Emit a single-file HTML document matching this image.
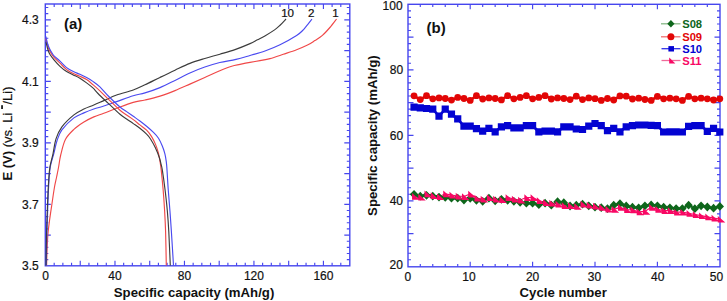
<!DOCTYPE html><html><head><meta charset="utf-8"><style>html,body{margin:0;padding:0;background:#fff;width:727px;height:301px;overflow:hidden}svg{display:block}text{font-family:"Liberation Sans",sans-serif}</style></head><body>
<svg width="727" height="301" viewBox="0 0 727 301">
<path d="M54.19 265.8 v-3 M54.19 4 v3 M62.87 265.8 v-3 M62.87 4 v3 M71.56 265.8 v-3 M71.56 4 v3 M80.24 265.8 v-5 M80.24 4 v5 M88.93 265.8 v-3 M88.93 4 v3 M97.61 265.8 v-3 M97.61 4 v3 M106.3 265.8 v-3 M106.3 4 v3 M114.98 265.8 v-5 M114.98 4 v5 M123.67 265.8 v-3 M123.67 4 v3 M132.35 265.8 v-3 M132.35 4 v3 M141.04 265.8 v-3 M141.04 4 v3 M149.72 265.8 v-5 M149.72 4 v5 M158.41 265.8 v-3 M158.41 4 v3 M167.09 265.8 v-3 M167.09 4 v3 M175.78 265.8 v-3 M175.78 4 v3 M184.46 265.8 v-5 M184.46 4 v5 M193.15 265.8 v-3 M193.15 4 v3 M201.83 265.8 v-3 M201.83 4 v3 M210.52 265.8 v-3 M210.52 4 v3 M219.2 265.8 v-5 M219.2 4 v5 M227.89 265.8 v-3 M227.89 4 v3 M236.57 265.8 v-3 M236.57 4 v3 M245.26 265.8 v-3 M245.26 4 v3 M253.94 265.8 v-5 M253.94 4 v5 M262.62 265.8 v-3 M262.62 4 v3 M271.31 265.8 v-3 M271.31 4 v3 M280 265.8 v-3 M280 4 v3 M288.68 265.8 v-5 M288.68 4 v5 M297.37 265.8 v-3 M297.37 4 v3 M306.05 265.8 v-3 M306.05 4 v3 M314.74 265.8 v-3 M314.74 4 v3 M323.42 265.8 v-5 M323.42 4 v5 M332.11 265.8 v-3 M332.11 4 v3 M340.79 265.8 v-3 M340.79 4 v3 M45.3 259.65 h3 M349.8 259.65 h-3 M45.3 253.5 h3 M349.8 253.5 h-3 M45.3 247.35 h3 M349.8 247.35 h-3 M45.3 241.2 h3 M349.8 241.2 h-3 M45.3 235.05 h5.5 M349.8 235.05 h-5.5 M45.3 228.9 h3 M349.8 228.9 h-3 M45.3 222.75 h3 M349.8 222.75 h-3 M45.3 216.6 h3 M349.8 216.6 h-3 M45.3 210.45 h3 M349.8 210.45 h-3 M45.3 204.3 h5.5 M349.8 204.3 h-5.5 M45.3 198.15 h3 M349.8 198.15 h-3 M45.3 192 h3 M349.8 192 h-3 M45.3 185.85 h3 M349.8 185.85 h-3 M45.3 179.7 h3 M349.8 179.7 h-3 M45.3 173.55 h5.5 M349.8 173.55 h-5.5 M45.3 167.4 h3 M349.8 167.4 h-3 M45.3 161.25 h3 M349.8 161.25 h-3 M45.3 155.1 h3 M349.8 155.1 h-3 M45.3 148.95 h3 M349.8 148.95 h-3 M45.3 142.8 h5.5 M349.8 142.8 h-5.5 M45.3 136.65 h3 M349.8 136.65 h-3 M45.3 130.5 h3 M349.8 130.5 h-3 M45.3 124.35 h3 M349.8 124.35 h-3 M45.3 118.2 h3 M349.8 118.2 h-3 M45.3 112.05 h5.5 M349.8 112.05 h-5.5 M45.3 105.9 h3 M349.8 105.9 h-3 M45.3 99.75 h3 M349.8 99.75 h-3 M45.3 93.6 h3 M349.8 93.6 h-3 M45.3 87.45 h3 M349.8 87.45 h-3 M45.3 81.3 h5.5 M349.8 81.3 h-5.5 M45.3 75.15 h3 M349.8 75.15 h-3 M45.3 69 h3 M349.8 69 h-3 M45.3 62.85 h3 M349.8 62.85 h-3 M45.3 56.7 h3 M349.8 56.7 h-3 M45.3 50.55 h5.5 M349.8 50.55 h-5.5 M45.3 44.4 h3 M349.8 44.4 h-3 M45.3 38.25 h3 M349.8 38.25 h-3 M45.3 32.1 h3 M349.8 32.1 h-3 M45.3 25.95 h3 M349.8 25.95 h-3 M45.3 19.8 h5.5 M349.8 19.8 h-5.5 M45.3 13.65 h3 M349.8 13.65 h-3 M45.3 7.5 h3 M349.8 7.5 h-3" stroke="#4646ee" stroke-width="1.15" fill="none"/>
<rect x="45.3" y="4" width="304.5" height="261.8" stroke="#4646ee" stroke-width="1.4" fill="none"/>
<path d="M46.6 265.5 C46.67 263.08 46.78 256.17 47 251 C47.22 245.83 47.47 239.67 47.9 234.5 C48.33 229.33 48.92 225.17 49.6 220 C50.28 214.83 51.18 209 52 203.5 C52.82 198 53.73 191.42 54.5 187 C55.27 182.58 55.92 180.33 56.6 177 C57.28 173.67 57.92 170.67 58.6 167 C59.28 163.33 59.57 159.58 60.7 155 C61.83 150.42 63.2 143.77 65.4 139.5 C67.6 135.23 70.82 132.3 73.9 129.4 C76.98 126.5 80.58 124.18 83.9 122.1 C87.22 120.02 90.48 118.37 93.8 116.9 C97.12 115.43 100 114.73 103.8 113.3 C107.6 111.87 111.7 110.12 116.6 108.3 C121.5 106.48 128.47 103.78 133.2 102.4 C137.93 101.02 140.53 101.05 145 100 C149.47 98.95 155 97.67 160 96.1 C165 94.53 170.02 92.6 175 90.6 C179.98 88.6 184.93 86.3 189.9 84.1 C194.87 81.9 199.82 79.63 204.8 77.4 C209.78 75.17 215.32 72.57 219.8 70.7 C224.28 68.83 228.33 67.25 231.7 66.2 C235.07 65.15 236.95 65.03 240 64.4 C243.05 63.77 246.67 63.03 250 62.4 C253.33 61.77 256.67 61.23 260 60.6 C263.33 59.97 266.12 59.65 270 58.6 C273.88 57.55 278.87 55.77 283.3 54.3 C287.73 52.83 292.57 51.33 296.6 49.8 C300.63 48.27 304.45 46.63 307.5 45.1 C310.55 43.57 312.42 42.22 314.9 40.6 C317.38 38.98 319.9 37.58 322.4 35.4 C324.9 33.22 327.53 30.23 329.9 27.5 C332.27 24.77 335.48 20.42 336.6 19" stroke="#f04848" stroke-width="1.15" fill="none"/>
<path d="M46.3 265.5 C46.42 259.58 46.72 240.92 47 230 C47.28 219.08 47.67 208.33 48 200 C48.33 191.67 48.62 185.55 49 180 C49.38 174.45 49.47 171.23 50.3 166.7 C51.13 162.17 52.88 157.12 54 152.8 C55.12 148.48 55.68 144.62 57 140.8 C58.32 136.98 59.08 133.72 61.9 129.9 C64.72 126.08 70.23 120.73 73.9 117.9 C77.57 115.07 80.58 114.38 83.9 112.9 C87.22 111.42 90.48 110.15 93.8 109 C97.12 107.85 100 107.23 103.8 106 C107.6 104.77 111.7 103.3 116.6 101.6 C121.5 99.9 128.47 97.25 133.2 95.8 C137.93 94.35 140.53 94.27 145 92.9 C149.47 91.53 155 89.68 160 87.6 C165 85.52 170.02 82.85 175 80.4 C179.98 77.95 184.93 75.13 189.9 72.9 C194.87 70.67 199.82 68.73 204.8 67 C209.78 65.27 214.6 63.77 219.8 62.5 C225 61.23 230.97 60.57 236 59.4 C241.03 58.23 245.17 56.9 250 55.5 C254.83 54.1 260 52.78 265 51 C270 49.22 274.73 47.38 280 44.8 C285.27 42.22 292.83 37.88 296.6 35.5 C300.37 33.12 301.03 31.98 302.6 30.5 C304.17 29.02 304.43 28.52 306 26.6 C307.57 24.68 311 20.27 312 19" stroke="#4a4af0" stroke-width="1.15" fill="none"/>
<path d="M46 265.5 C46.08 260.42 46.25 245.08 46.5 235 C46.75 224.92 47.13 214.17 47.5 205 C47.87 195.83 48.28 186.38 48.7 180 C49.12 173.62 49.28 171.07 50 166.7 C50.72 162.33 52 158.43 53 153.8 C54 149.17 54.52 143.38 56 138.9 C57.48 134.42 58.92 130.9 61.9 126.9 C64.88 122.9 70.23 117.88 73.9 114.9 C77.57 111.92 80.58 110.65 83.9 109 C87.22 107.35 90.48 106.4 93.8 105 C97.12 103.6 100 102.27 103.8 100.6 C107.6 98.93 111.7 96.77 116.6 95 C121.5 93.23 128.47 91.7 133.2 90 C137.93 88.3 140.53 86.9 145 84.8 C149.47 82.7 155 79.83 160 77.4 C165 74.97 170.02 72.53 175 70.2 C179.98 67.87 184.93 65.35 189.9 63.4 C194.87 61.45 199.8 60.03 204.8 58.5 C209.8 56.97 214.87 55.68 219.9 54.2 C224.93 52.72 229.98 51.37 235 49.6 C240.02 47.83 246.27 45.23 250 43.6 C253.73 41.97 254.92 41.08 257.4 39.8 C259.88 38.52 262.03 37.55 264.9 35.9 C267.77 34.25 272.12 31.63 274.6 29.9 C277.08 28.17 277.9 27.32 279.8 25.5 C281.7 23.68 284.97 20.08 286 19" stroke="#3c3c3c" stroke-width="1.15" fill="none"/>
<path d="M45.8 38.5 C46.17 39.92 47.3 44.88 48 47 C48.7 49.12 49.33 49.93 50 51.2 C50.67 52.47 51.33 53.58 52 54.6 C52.67 55.62 52.67 55.87 54 57.3 C55.33 58.73 57.9 61.15 60 63.2 C62.1 65.25 64.38 67.87 66.6 69.6 C68.82 71.33 71.08 72.48 73.3 73.6 C75.52 74.72 77.68 75.3 79.9 76.3 C82.12 77.3 84.38 78.17 86.6 79.6 C88.82 81.03 90.98 83.02 93.2 84.9 C95.42 86.78 97.38 88.53 99.9 90.9 C102.42 93.27 104.95 95.87 108.3 99.1 C111.65 102.33 116.95 107.65 120 110.3 C123.05 112.95 124.38 113.45 126.6 115 C128.82 116.55 131.08 117.95 133.3 119.6 C135.52 121.25 137.68 123.13 139.9 124.9 C142.12 126.67 144.65 128.25 146.6 130.2 C148.55 132.15 150.1 134.2 151.6 136.6 C153.1 139 154.48 141.93 155.6 144.6 C156.72 147.27 157.58 149.93 158.3 152.6 C159.02 155.27 159.42 157.72 159.9 160.6 C160.38 163.48 160.67 165.12 161.2 169.9 C161.73 174.68 162.53 182.53 163.1 189.3 C163.67 196.07 164.18 203.42 164.6 210.5 C165.02 217.58 165.32 222.63 165.6 231.8 C165.88 240.97 166.18 259.88 166.3 265.5" stroke="#f04848" stroke-width="1.15" fill="none"/>
<path d="M46 42 C46.33 43.33 47.33 47.92 48 50 C48.67 52.08 49 52.87 50 54.5 C51 56.13 52.33 57.83 54 59.8 C55.67 61.77 57.9 64.33 60 66.3 C62.1 68.27 64.38 70.17 66.6 71.6 C68.82 73.03 71.08 73.78 73.3 74.9 C75.52 76.02 77.68 76.97 79.9 78.3 C82.12 79.63 84.38 81.25 86.6 82.9 C88.82 84.55 91.3 86.43 93.2 88.2 C95.1 89.97 95.48 90.98 98 93.5 C100.52 96.02 104.63 99.83 108.3 103.3 C111.97 106.77 116.95 111.68 120 114.3 C123.05 116.92 124.38 117.45 126.6 119 C128.82 120.55 131.08 122.05 133.3 123.6 C135.52 125.15 137.68 126.53 139.9 128.3 C142.12 130.07 144.83 132.42 146.6 134.2 C148.37 135.98 149.02 136.7 150.5 139 C151.98 141.3 154.03 144.92 155.5 148 C156.97 151.08 158.38 154.83 159.3 157.5 C160.22 160.17 160.5 161.93 161 164 C161.5 166.07 161.63 165.68 162.3 169.9 C162.97 174.12 164.17 182.53 165 189.3 C165.83 196.07 166.67 203.42 167.3 210.5 C167.93 217.58 168.3 222.63 168.8 231.8 C169.3 240.97 170.05 259.88 170.3 265.5" stroke="#3c3c3c" stroke-width="1.15" fill="none"/>
<path d="M45.8 36.5 C46.17 37.92 47.3 42.83 48 45 C48.7 47.17 49.33 48.17 50 49.5 C50.67 50.83 51.33 51.95 52 53 C52.67 54.05 52.67 54.43 54 55.8 C55.33 57.17 57.9 59.23 60 61.2 C62.1 63.17 64.38 65.87 66.6 67.6 C68.82 69.33 71.08 70.48 73.3 71.6 C75.52 72.72 77.68 73.3 79.9 74.3 C82.12 75.3 84.38 76.38 86.6 77.6 C88.82 78.82 90.98 80.05 93.2 81.6 C95.42 83.15 97.38 84.5 99.9 86.9 C102.42 89.3 104.95 92.65 108.3 96 C111.65 99.35 116.95 104.4 120 107 C123.05 109.6 124.38 110.05 126.6 111.6 C128.82 113.15 131.08 114.73 133.3 116.3 C135.52 117.87 137.68 119.33 139.9 121 C142.12 122.67 144.38 124.43 146.6 126.3 C148.82 128.17 151.22 130.22 153.2 132.2 C155.18 134.18 156.98 135.9 158.5 138.2 C160.02 140.5 161.23 143.38 162.3 146 C163.37 148.62 164.23 151.25 164.9 153.9 C165.57 156.55 165.95 159.23 166.3 161.9 C166.65 164.57 166.68 165.33 167 169.9 C167.32 174.47 167.72 182.53 168.2 189.3 C168.68 196.07 169.37 203.42 169.9 210.5 C170.43 217.58 170.8 222.63 171.4 231.8 C172 240.97 173.15 259.88 173.5 265.5" stroke="#4a4af0" stroke-width="1.15" fill="none"/>
<text stroke="#111" stroke-width="0.2" x="38.7" y="24.1" font-size="12" text-anchor="end" fill="#111">4.3</text>
<text stroke="#111" stroke-width="0.2" x="38.7" y="85.6" font-size="12" text-anchor="end" fill="#111">4.1</text>
<text stroke="#111" stroke-width="0.2" x="38.7" y="147.1" font-size="12" text-anchor="end" fill="#111">3.9</text>
<text stroke="#111" stroke-width="0.2" x="38.7" y="208.6" font-size="12" text-anchor="end" fill="#111">3.7</text>
<text stroke="#111" stroke-width="0.2" x="38.7" y="270.1" font-size="12" text-anchor="end" fill="#111">3.5</text>
<text stroke="#111" stroke-width="0.2" x="45.5" y="279.5" font-size="12" text-anchor="middle" fill="#111">0</text>
<text stroke="#111" stroke-width="0.2" x="114.98" y="279.5" font-size="12" text-anchor="middle" fill="#111">40</text>
<text stroke="#111" stroke-width="0.2" x="184.46" y="279.5" font-size="12" text-anchor="middle" fill="#111">80</text>
<text stroke="#111" stroke-width="0.2" x="253.94" y="279.5" font-size="12" text-anchor="middle" fill="#111">120</text>
<text stroke="#111" stroke-width="0.2" x="323.42" y="279.5" font-size="12" text-anchor="middle" fill="#111">160</text>
<text x="64" y="29.3" font-size="15" font-weight="bold" fill="#111">(a)</text>
<text x="113.8" y="296.6" font-size="13.2" font-weight="bold" fill="#111">Specific capacity (mAh/g)</text>
<text transform="translate(11.6,180.6) rotate(-90)" font-size="13" fill="#111"><tspan font-weight="bold">E (V)</tspan><tspan stroke="#111" stroke-width="0.2"> (vs. Li</tspan></text>
<rect x="1.2" y="105.2" width="1.7" height="3.8" fill="#111"/>
<text stroke="#111" stroke-width="0.2" transform="translate(11.6,104.6) rotate(-90)" font-size="13" fill="#111">/Li)</text>
<text stroke="#111" stroke-width="0.2" x="287.6" y="16.5" font-size="11.6" text-anchor="middle" fill="#111">10</text>
<text stroke="#111" stroke-width="0.2" x="311.2" y="16.5" font-size="11.6" text-anchor="middle" fill="#111">2</text>
<text stroke="#111" stroke-width="0.2" x="335.6" y="16.5" font-size="11.6" text-anchor="middle" fill="#111">1</text>
<path d="M420.28 266.8 v-2.7 M420.28 4.3 v2.7 M432.76 266.8 v-2.7 M432.76 4.3 v2.7 M445.24 266.8 v-2.7 M445.24 4.3 v2.7 M457.72 266.8 v-2.7 M457.72 4.3 v2.7 M470.2 266.8 v-5 M470.2 4.3 v5 M482.68 266.8 v-2.7 M482.68 4.3 v2.7 M495.16 266.8 v-2.7 M495.16 4.3 v2.7 M507.64 266.8 v-2.7 M507.64 4.3 v2.7 M520.12 266.8 v-2.7 M520.12 4.3 v2.7 M532.6 266.8 v-5 M532.6 4.3 v5 M545.08 266.8 v-2.7 M545.08 4.3 v2.7 M557.56 266.8 v-2.7 M557.56 4.3 v2.7 M570.04 266.8 v-2.7 M570.04 4.3 v2.7 M582.52 266.8 v-2.7 M582.52 4.3 v2.7 M595 266.8 v-5 M595 4.3 v5 M607.48 266.8 v-2.7 M607.48 4.3 v2.7 M619.96 266.8 v-2.7 M619.96 4.3 v2.7 M632.44 266.8 v-2.7 M632.44 4.3 v2.7 M644.92 266.8 v-2.7 M644.92 4.3 v2.7 M657.4 266.8 v-5 M657.4 4.3 v5 M669.88 266.8 v-2.7 M669.88 4.3 v2.7 M682.36 266.8 v-2.7 M682.36 4.3 v2.7 M694.84 266.8 v-2.7 M694.84 4.3 v2.7 M707.32 266.8 v-2.7 M707.32 4.3 v2.7 M408 259.75 h3 M720 259.75 h-3 M408 253.2 h3 M720 253.2 h-3 M408 246.65 h3 M720 246.65 h-3 M408 240.1 h3 M720 240.1 h-3 M408 233.55 h5.5 M720 233.55 h-5.5 M408 227 h3 M720 227 h-3 M408 220.45 h3 M720 220.45 h-3 M408 213.9 h3 M720 213.9 h-3 M408 207.35 h3 M720 207.35 h-3 M408 200.8 h5.5 M720 200.8 h-5.5 M408 194.25 h3 M720 194.25 h-3 M408 187.7 h3 M720 187.7 h-3 M408 181.15 h3 M720 181.15 h-3 M408 174.6 h3 M720 174.6 h-3 M408 168.05 h5.5 M720 168.05 h-5.5 M408 161.5 h3 M720 161.5 h-3 M408 154.95 h3 M720 154.95 h-3 M408 148.4 h3 M720 148.4 h-3 M408 141.85 h3 M720 141.85 h-3 M408 135.3 h5.5 M720 135.3 h-5.5 M408 128.75 h3 M720 128.75 h-3 M408 122.2 h3 M720 122.2 h-3 M408 115.65 h3 M720 115.65 h-3 M408 109.1 h3 M720 109.1 h-3 M408 102.55 h5.5 M720 102.55 h-5.5 M408 96 h3 M720 96 h-3 M408 89.45 h3 M720 89.45 h-3 M408 82.9 h3 M720 82.9 h-3 M408 76.35 h3 M720 76.35 h-3 M408 69.8 h5.5 M720 69.8 h-5.5 M408 63.25 h3 M720 63.25 h-3 M408 56.7 h3 M720 56.7 h-3 M408 50.15 h3 M720 50.15 h-3 M408 43.6 h3 M720 43.6 h-3 M408 37.05 h5.5 M720 37.05 h-5.5 M408 30.5 h3 M720 30.5 h-3 M408 23.95 h3 M720 23.95 h-3 M408 17.4 h3 M720 17.4 h-3 M408 10.85 h3 M720 10.85 h-3" stroke="#4646ee" stroke-width="1.15" fill="none"/>
<rect x="408" y="4.3" width="312" height="262.5" stroke="#4646ee" stroke-width="1.4" fill="none"/>
<text stroke="#111" stroke-width="0.2" x="402.9" y="269.1" font-size="12" text-anchor="end" fill="#111">20</text>
<text stroke="#111" stroke-width="0.2" x="403" y="205.1" font-size="12" text-anchor="end" fill="#111">40</text>
<text stroke="#111" stroke-width="0.2" x="403.1" y="139.6" font-size="12" text-anchor="end" fill="#111">60</text>
<text stroke="#111" stroke-width="0.2" x="403.2" y="74.1" font-size="12" text-anchor="end" fill="#111">80</text>
<text stroke="#111" stroke-width="0.2" x="402.6" y="10.3" font-size="12" text-anchor="end" fill="#111">100</text>
<text stroke="#111" stroke-width="0.2" x="407.8" y="280.5" font-size="12" text-anchor="middle" fill="#111">0</text>
<text stroke="#111" stroke-width="0.2" x="469" y="280.5" font-size="12" text-anchor="middle" fill="#111">10</text>
<text stroke="#111" stroke-width="0.2" x="532.6" y="280.5" font-size="12" text-anchor="middle" fill="#111">20</text>
<text stroke="#111" stroke-width="0.2" x="594.5" y="280.5" font-size="12" text-anchor="middle" fill="#111">30</text>
<text stroke="#111" stroke-width="0.2" x="657.8" y="280.5" font-size="12" text-anchor="middle" fill="#111">40</text>
<text stroke="#111" stroke-width="0.2" x="716.5" y="280.5" font-size="12" text-anchor="middle" fill="#111">50</text>
<text x="426.6" y="32.8" font-size="15" font-weight="bold" fill="#111">(b)</text>
<text x="519.6" y="296.6" font-size="13.2" font-weight="bold" fill="#111">Cycle number</text>
<text transform="translate(377,215.9) rotate(-90)" font-size="13.2" font-weight="bold" fill="#111">Specific capacity (mAh/g)</text>
<polyline points="414.04,95.8 420.28,99.6 426.52,95.7 432.76,98.8 439,97.9 445.24,98.5 451.48,100.1 457.72,97.4 463.96,98.5 470.2,100.4 476.44,95.7 482.68,99 488.92,97.9 495.16,98.5 501.4,99.9 507.64,95.7 513.88,98.8 520.12,97.4 526.36,95.7 532.6,98.8 538.84,97.4 545.08,95.7 551.32,99 557.56,97.9 563.8,98.5 570.04,99.6 576.28,96.2 582.52,99.6 588.76,97.9 595,98.7 601.24,100.4 607.48,98.5 613.72,100 619.96,95.9 626.2,96.2 632.44,99 638.68,98.2 644.92,99.5 651.16,100.4 657.4,96.4 663.64,98.8 669.88,98.2 676.12,98.8 682.36,100.4 688.6,96.4 694.84,98.8 701.08,98.2 707.32,98.8 713.56,100 719.8,98.8" stroke="#e20606" stroke-width="2.6" fill="none"/>
<polyline points="414.04,107.2 420.28,107.9 426.52,108.5 432.76,109.2 439,116.1 445.24,109.2 451.48,114.2 457.72,118.9 463.96,126.2 470.2,126.2 476.44,128.7 482.68,131.2 488.92,128.4 495.16,131.8 501.4,126.8 507.64,125.7 513.88,127.9 520.12,127.9 526.36,125.7 532.6,125.7 538.84,131.8 545.08,131.2 551.32,131.2 557.56,131.8 563.8,126.8 570.04,126.8 576.28,129 582.52,129.5 588.76,126.2 595,123.5 601.24,125.7 607.48,130.6 613.72,128.4 619.96,131.8 626.2,126.8 632.44,125.7 638.68,125 644.92,125 651.16,125.3 657.4,125.7 663.64,132 669.88,131.8 676.12,131.8 682.36,132 688.6,126.4 694.84,125.7 701.08,125.6 707.32,131.3 713.56,128.4 719.8,132" stroke="#0303d2" stroke-width="2.6" fill="none"/>
<polyline points="414.04,194.3 420.28,196.2 426.52,195.3 432.76,196.2 439,197.1 445.24,197.4 451.48,198.2 457.72,198.2 463.96,200 470.2,198.3 476.44,200.3 482.68,201.3 488.92,198.2 495.16,200.8 501.4,199.3 507.64,200.3 513.88,201.3 520.12,202.3 526.36,203.2 532.6,203.2 538.84,204.7 545.08,203.2 551.32,205.2 557.56,201.7 563.8,202.7 570.04,206 576.28,205.2 582.52,204.2 588.76,205.8 595,207.2 601.24,207.7 607.48,208.6 613.72,205.2 619.96,203.7 626.2,206 632.44,207.2 638.68,207.8 644.92,205.8 651.16,204.9 657.4,205.8 663.64,207.2 669.88,207.8 676.12,208.6 682.36,208.6 688.6,205.2 694.84,208.7 701.08,205.8 707.32,207 713.56,208.2 719.8,206.4" stroke="#0e661b" stroke-width="2.0" fill="none"/>
<polyline points="414.04,196.3 420.28,197.1 426.52,193.8 432.76,195.5 439,196.7 445.24,193.8 451.48,195 457.72,196 463.96,196.5 470.2,194 476.44,198 482.68,199 488.92,197.5 495.16,199 501.4,199.5 507.64,197.5 513.88,199 520.12,200 526.36,197.5 532.6,197.5 538.84,200.5 545.08,202.5 551.32,203 557.56,204 563.8,205.5 570.04,205.5 576.28,206.4 582.52,204 588.76,205 595,206 601.24,207.4 607.48,209 613.72,209.4 619.96,207.4 626.2,209.5 632.44,209.9 638.68,211.9 644.92,211.3 651.16,207.3 657.4,209.3 663.64,210.6 669.88,210.6 676.12,212.2 682.36,212.2 688.6,213.3 694.84,214.5 701.08,215.7 707.32,216.8 713.56,218 719.8,219.2" stroke="#f80864" stroke-width="1.2" fill="none"/>
<g fill="#e20606"><circle cx="414.04" cy="95.8" r="3.4"/><circle cx="420.28" cy="99.6" r="3.4"/><circle cx="426.52" cy="95.7" r="3.4"/><circle cx="432.76" cy="98.8" r="3.4"/><circle cx="439" cy="97.9" r="3.4"/><circle cx="445.24" cy="98.5" r="3.4"/><circle cx="451.48" cy="100.1" r="3.4"/><circle cx="457.72" cy="97.4" r="3.4"/><circle cx="463.96" cy="98.5" r="3.4"/><circle cx="470.2" cy="100.4" r="3.4"/><circle cx="476.44" cy="95.7" r="3.4"/><circle cx="482.68" cy="99" r="3.4"/><circle cx="488.92" cy="97.9" r="3.4"/><circle cx="495.16" cy="98.5" r="3.4"/><circle cx="501.4" cy="99.9" r="3.4"/><circle cx="507.64" cy="95.7" r="3.4"/><circle cx="513.88" cy="98.8" r="3.4"/><circle cx="520.12" cy="97.4" r="3.4"/><circle cx="526.36" cy="95.7" r="3.4"/><circle cx="532.6" cy="98.8" r="3.4"/><circle cx="538.84" cy="97.4" r="3.4"/><circle cx="545.08" cy="95.7" r="3.4"/><circle cx="551.32" cy="99" r="3.4"/><circle cx="557.56" cy="97.9" r="3.4"/><circle cx="563.8" cy="98.5" r="3.4"/><circle cx="570.04" cy="99.6" r="3.4"/><circle cx="576.28" cy="96.2" r="3.4"/><circle cx="582.52" cy="99.6" r="3.4"/><circle cx="588.76" cy="97.9" r="3.4"/><circle cx="595" cy="98.7" r="3.4"/><circle cx="601.24" cy="100.4" r="3.4"/><circle cx="607.48" cy="98.5" r="3.4"/><circle cx="613.72" cy="100" r="3.4"/><circle cx="619.96" cy="95.9" r="3.4"/><circle cx="626.2" cy="96.2" r="3.4"/><circle cx="632.44" cy="99" r="3.4"/><circle cx="638.68" cy="98.2" r="3.4"/><circle cx="644.92" cy="99.5" r="3.4"/><circle cx="651.16" cy="100.4" r="3.4"/><circle cx="657.4" cy="96.4" r="3.4"/><circle cx="663.64" cy="98.8" r="3.4"/><circle cx="669.88" cy="98.2" r="3.4"/><circle cx="676.12" cy="98.8" r="3.4"/><circle cx="682.36" cy="100.4" r="3.4"/><circle cx="688.6" cy="96.4" r="3.4"/><circle cx="694.84" cy="98.8" r="3.4"/><circle cx="701.08" cy="98.2" r="3.4"/><circle cx="707.32" cy="98.8" r="3.4"/><circle cx="713.56" cy="100" r="3.4"/><circle cx="719.8" cy="98.8" r="3.4"/></g>
<path fill="#0303d2" d="M410.44 103.6h7.2v7.2h-7.2z M416.68 104.3h7.2v7.2h-7.2z M422.92 104.9h7.2v7.2h-7.2z M429.16 105.6h7.2v7.2h-7.2z M435.4 112.5h7.2v7.2h-7.2z M441.64 105.6h7.2v7.2h-7.2z M447.88 110.6h7.2v7.2h-7.2z M454.12 115.3h7.2v7.2h-7.2z M460.36 122.6h7.2v7.2h-7.2z M466.6 122.6h7.2v7.2h-7.2z M472.84 125.1h7.2v7.2h-7.2z M479.08 127.6h7.2v7.2h-7.2z M485.32 124.8h7.2v7.2h-7.2z M491.56 128.2h7.2v7.2h-7.2z M497.8 123.2h7.2v7.2h-7.2z M504.04 122.1h7.2v7.2h-7.2z M510.28 124.3h7.2v7.2h-7.2z M516.52 124.3h7.2v7.2h-7.2z M522.76 122.1h7.2v7.2h-7.2z M529 122.1h7.2v7.2h-7.2z M535.24 128.2h7.2v7.2h-7.2z M541.48 127.6h7.2v7.2h-7.2z M547.72 127.6h7.2v7.2h-7.2z M553.96 128.2h7.2v7.2h-7.2z M560.2 123.2h7.2v7.2h-7.2z M566.44 123.2h7.2v7.2h-7.2z M572.68 125.4h7.2v7.2h-7.2z M578.92 125.9h7.2v7.2h-7.2z M585.16 122.6h7.2v7.2h-7.2z M591.4 119.9h7.2v7.2h-7.2z M597.64 122.1h7.2v7.2h-7.2z M603.88 127h7.2v7.2h-7.2z M610.12 124.8h7.2v7.2h-7.2z M616.36 128.2h7.2v7.2h-7.2z M622.6 123.2h7.2v7.2h-7.2z M628.84 122.1h7.2v7.2h-7.2z M635.08 121.4h7.2v7.2h-7.2z M641.32 121.4h7.2v7.2h-7.2z M647.56 121.7h7.2v7.2h-7.2z M653.8 122.1h7.2v7.2h-7.2z M660.04 128.4h7.2v7.2h-7.2z M666.28 128.2h7.2v7.2h-7.2z M672.52 128.2h7.2v7.2h-7.2z M678.76 128.4h7.2v7.2h-7.2z M685 122.8h7.2v7.2h-7.2z M691.24 122.1h7.2v7.2h-7.2z M697.48 122h7.2v7.2h-7.2z M703.72 127.7h7.2v7.2h-7.2z M709.96 124.8h7.2v7.2h-7.2z M716.2 128.4h7.2v7.2h-7.2z"/>
<path fill="#0e661b" d="M414.04 189.9L418.24 194.3L414.04 198.7L409.84 194.3z M420.28 191.8L424.48 196.2L420.28 200.6L416.08 196.2z M426.52 190.9L430.72 195.3L426.52 199.7L422.32 195.3z M432.76 191.8L436.96 196.2L432.76 200.6L428.56 196.2z M439 192.7L443.2 197.1L439 201.5L434.8 197.1z M445.24 193L449.44 197.4L445.24 201.8L441.04 197.4z M451.48 193.8L455.68 198.2L451.48 202.6L447.28 198.2z M457.72 193.8L461.92 198.2L457.72 202.6L453.52 198.2z M463.96 195.6L468.16 200L463.96 204.4L459.76 200z M470.2 193.9L474.4 198.3L470.2 202.7L466 198.3z M476.44 195.9L480.64 200.3L476.44 204.7L472.24 200.3z M482.68 196.9L486.88 201.3L482.68 205.7L478.48 201.3z M488.92 193.8L493.12 198.2L488.92 202.6L484.72 198.2z M495.16 196.4L499.36 200.8L495.16 205.2L490.96 200.8z M501.4 194.9L505.6 199.3L501.4 203.7L497.2 199.3z M507.64 195.9L511.84 200.3L507.64 204.7L503.44 200.3z M513.88 196.9L518.08 201.3L513.88 205.7L509.68 201.3z M520.12 197.9L524.32 202.3L520.12 206.7L515.92 202.3z M526.36 198.8L530.56 203.2L526.36 207.6L522.16 203.2z M532.6 198.8L536.8 203.2L532.6 207.6L528.4 203.2z M538.84 200.3L543.04 204.7L538.84 209.1L534.64 204.7z M545.08 198.8L549.28 203.2L545.08 207.6L540.88 203.2z M551.32 200.8L555.52 205.2L551.32 209.6L547.12 205.2z M557.56 197.3L561.76 201.7L557.56 206.1L553.36 201.7z M563.8 198.3L568 202.7L563.8 207.1L559.6 202.7z M570.04 201.6L574.24 206L570.04 210.4L565.84 206z M576.28 200.8L580.48 205.2L576.28 209.6L572.08 205.2z M582.52 199.8L586.72 204.2L582.52 208.6L578.32 204.2z M588.76 201.4L592.96 205.8L588.76 210.2L584.56 205.8z M595 202.8L599.2 207.2L595 211.6L590.8 207.2z M601.24 203.3L605.44 207.7L601.24 212.1L597.04 207.7z M607.48 204.2L611.68 208.6L607.48 213L603.28 208.6z M613.72 200.8L617.92 205.2L613.72 209.6L609.52 205.2z M619.96 199.3L624.16 203.7L619.96 208.1L615.76 203.7z M626.2 201.6L630.4 206L626.2 210.4L622 206z M632.44 202.8L636.64 207.2L632.44 211.6L628.24 207.2z M638.68 203.4L642.88 207.8L638.68 212.2L634.48 207.8z M644.92 201.4L649.12 205.8L644.92 210.2L640.72 205.8z M651.16 200.5L655.36 204.9L651.16 209.3L646.96 204.9z M657.4 201.4L661.6 205.8L657.4 210.2L653.2 205.8z M663.64 202.8L667.84 207.2L663.64 211.6L659.44 207.2z M669.88 203.4L674.08 207.8L669.88 212.2L665.68 207.8z M676.12 204.2L680.32 208.6L676.12 213L671.92 208.6z M682.36 204.2L686.56 208.6L682.36 213L678.16 208.6z M688.6 200.8L692.8 205.2L688.6 209.6L684.4 205.2z M694.84 204.3L699.04 208.7L694.84 213.1L690.64 208.7z M701.08 201.4L705.28 205.8L701.08 210.2L696.88 205.8z M707.32 202.6L711.52 207L707.32 211.4L703.12 207z M713.56 203.8L717.76 208.2L713.56 212.6L709.36 208.2z M719.8 202L724 206.4L719.8 210.8L715.6 206.4z"/>
<path fill="#f80864" d="M412.04 193L419.54 199.7L412.04 199.7z M418.28 193.8L425.78 200.5L418.28 200.5z M424.52 190.5L432.02 197.2L424.52 197.2z M430.76 192.2L438.26 198.9L430.76 198.9z M437 193.4L444.5 200.1L437 200.1z M443.24 190.5L450.74 197.2L443.24 197.2z M449.48 191.7L456.98 198.4L449.48 198.4z M455.72 192.7L463.22 199.4L455.72 199.4z M461.96 193.2L469.46 199.9L461.96 199.9z M468.2 190.7L475.7 197.4L468.2 197.4z M474.44 194.7L481.94 201.4L474.44 201.4z M480.68 195.7L488.18 202.4L480.68 202.4z M486.92 194.2L494.42 200.9L486.92 200.9z M493.16 195.7L500.66 202.4L493.16 202.4z M499.4 196.2L506.9 202.9L499.4 202.9z M505.64 194.2L513.14 200.9L505.64 200.9z M511.88 195.7L519.38 202.4L511.88 202.4z M518.12 196.7L525.62 203.4L518.12 203.4z M524.36 194.2L531.86 200.9L524.36 200.9z M530.6 194.2L538.1 200.9L530.6 200.9z M536.84 197.2L544.34 203.9L536.84 203.9z M543.08 199.2L550.58 205.9L543.08 205.9z M549.32 199.7L556.82 206.4L549.32 206.4z M555.56 200.7L563.06 207.4L555.56 207.4z M561.8 202.2L569.3 208.9L561.8 208.9z M568.04 202.2L575.54 208.9L568.04 208.9z M574.28 203.1L581.78 209.8L574.28 209.8z M580.52 200.7L588.02 207.4L580.52 207.4z M586.76 201.7L594.26 208.4L586.76 208.4z M593 202.7L600.5 209.4L593 209.4z M599.24 204.1L606.74 210.8L599.24 210.8z M605.48 205.7L612.98 212.4L605.48 212.4z M611.72 206.1L619.22 212.8L611.72 212.8z M617.96 204.1L625.46 210.8L617.96 210.8z M624.2 206.2L631.7 212.9L624.2 212.9z M630.44 206.6L637.94 213.3L630.44 213.3z M636.68 208.6L644.18 215.3L636.68 215.3z M642.92 208L650.42 214.7L642.92 214.7z M649.16 204L656.66 210.7L649.16 210.7z M655.4 206L662.9 212.7L655.4 212.7z M661.64 207.3L669.14 214L661.64 214z M667.88 207.3L675.38 214L667.88 214z M674.12 208.9L681.62 215.6L674.12 215.6z M680.36 208.9L687.86 215.6L680.36 215.6z M686.6 210L694.1 216.7L686.6 216.7z M692.84 211.2L700.34 217.9L692.84 217.9z M699.08 212.4L706.58 219.1L699.08 219.1z M705.32 213.5L712.82 220.2L705.32 220.2z M711.56 214.7L719.06 221.4L711.56 221.4z M717.8 215.9L725.3 222.6L717.8 222.6z"/>
<path d="M661 23.8 h19.5" stroke="#86b886" stroke-width="1.3"/>
<path d="M661 36.8 h19.5" stroke="#f07070" stroke-width="1.3"/>
<path d="M661.5 48.7 h19" stroke="#3030e8" stroke-width="1.3"/>
<path d="M661.5 60.5 h19" stroke="#f06a9a" stroke-width="1.3"/>
<path fill="#0e661b" d="M670.9 20L674.5 23.8L670.9 27.6L667.3 23.8z"/>
<circle cx="670.9" cy="36.8" r="3.5" fill="#e20606"/>
<rect x="668.4" y="46.1" width="5.6" height="5.4" fill="#0303d2"/>
<path fill="#f80864" d="M669.2 57.6L675.3 63.6L669.2 63.6z"/>
<text x="682.2" y="27.75" font-size="11.2" font-weight="bold" fill="#0e661b">S08</text>
<text x="682.2" y="40.75" font-size="11.2" font-weight="bold" fill="#e20606">S09</text>
<text x="682.2" y="52.85" font-size="11.2" font-weight="bold" fill="#0303d2">S10</text>
<text x="682.2" y="65.05" font-size="11.2" font-weight="bold" fill="#f80864">S11</text>
</svg></body></html>
